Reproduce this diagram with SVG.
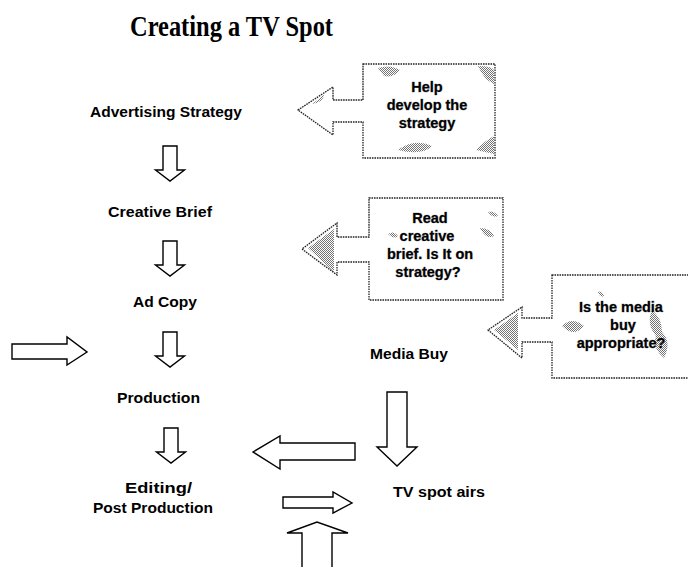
<svg xmlns="http://www.w3.org/2000/svg" width="688" height="567" viewBox="0 0 688 567">
  <style>
    .title { font-family: "Liberation Serif", "Times New Roman", serif; font-weight: bold; font-size: 30px; fill: #000; }
    .label { font-family: "Liberation Sans", Arial, sans-serif; font-weight: bold; font-size: 14.5px; fill: #000; }
    .note { font-family: "Liberation Sans", Arial, sans-serif; font-weight: bold; font-size: 14.5px; fill: #000; text-anchor: middle; stroke: #777; stroke-width: 0.5px; paint-order: stroke; }
    .arrow { fill: #fff; stroke: #000; stroke-width: 1.4; stroke-linejoin: miter; }
    .callout { fill: #fff; stroke: #222; stroke-width: 1.3; stroke-dasharray: 1.6 0.9; }
    .grain { fill: url(#stipple); opacity: 0.55; }
  </style>
  <defs>
    <pattern id="stipple" width="2" height="2" patternUnits="userSpaceOnUse">
      <rect x="0" y="0" width="1" height="1" fill="#000"/>
      <rect x="1" y="1" width="1" height="1" fill="#000"/>
    </pattern>
    <!-- small hollow down arrow, origin at top centre of the shaft -->
    <path id="downArrow" d="M-7,0 H7 V24 H14.5 L0,35 L-14.5,24 H-7 Z"/>
  </defs>

  <rect width="688" height="567" fill="#fff"/>

  <g id="title">
    <text class="title" x="130" y="36" textLength="203" lengthAdjust="spacingAndGlyphs">Creating a TV Spot</text>
  </g>

  <!-- process steps -->
  <g id="advertising-strategy">
    <text class="label" x="90" y="117" textLength="152" lengthAdjust="spacingAndGlyphs">Advertising Strategy</text>
  </g>
  <g id="creative-brief">
    <text class="label" x="108" y="217" textLength="104" lengthAdjust="spacingAndGlyphs">Creative Brief</text>
  </g>
  <g id="ad-copy">
    <text class="label" x="133" y="307" textLength="64" lengthAdjust="spacingAndGlyphs">Ad Copy</text>
  </g>
  <g id="production">
    <text class="label" x="117" y="403" textLength="83" lengthAdjust="spacingAndGlyphs">Production</text>
  </g>
  <g id="editing">
    <text class="label" x="125" y="493" textLength="67" lengthAdjust="spacingAndGlyphs">Editing/</text>
    <text class="label" x="93" y="513" textLength="120" lengthAdjust="spacingAndGlyphs">Post Production</text>
  </g>
  <g id="media-buy">
    <text class="label" x="370" y="359" textLength="78" lengthAdjust="spacingAndGlyphs">Media Buy</text>
  </g>
  <g id="tv-spot-airs">
    <text class="label" x="393" y="497" textLength="92" lengthAdjust="spacingAndGlyphs">TV spot airs</text>
  </g>

  <!-- review callouts -->
  <g id="callout-strategy">
    <path class="callout" d="M363,64 H495 V158 H363 V122 H333 V135 L298,110 L333,87 V100 H363 Z"/>
    <path class="grain" d="M378,68 q12,-4 22,2 q-6,8 -16,6 z M478,66 q14,0 16,4 v14 q-10,-4 -16,-18 z M398,150 q16,-12 34,-4 q-10,10 -34,4 z M476,150 q10,-10 18,-14 v18 z M312,104 q6,-4 12,-10 q0,8 -12,10 z"/>
    <text class="note" x="427" y="92">Help</text>
    <text class="note" x="427" y="110">develop the</text>
    <text class="note" x="427" y="128">strategy</text>
  </g>

  <g id="callout-brief">
    <path class="callout" d="M369,198 H503 V300 H369 V262 H337 V275 L302,249 L337,223 V237 H369 Z"/>
    <path class="grain" d="M308,248 L334,229 V272 Z"/>
    <path class="grain" d="M388,234 q6,-4 10,2 q-4,4 -10,-2 z M480,228 q10,0 14,8 q-8,4 -14,-8 z M488,212 q6,-2 10,4 q-6,2 -10,-4 z"/>
    <text class="note" x="430" y="223">Read</text>
    <text class="note" x="427" y="241">creative</text>
    <text class="note" x="430" y="259">brief. Is It on</text>
    <text class="note" x="428" y="277">strategy?</text>
  </g>

  <g id="callout-media">
    <!-- box runs past the right edge of the page -->
    <path class="callout" d="M552,275 H692 V378 H552 V342 H522 V358 L488,330 L522,307 V318 H552 Z"/>
    <path class="grain" d="M494,330 L518,313 V350 Z"/>
    <path class="grain" d="M562,326 q10,-10 22,0 q-10,12 -22,0 z M652,310 q10,8 10,22 q10,10 2,26 q-12,-10 -8,-22 q-10,-12 -4,-26 z M598,292 q4,-2 6,4 q-4,2 -6,-4 z"/>
    <text class="note" x="621" y="312">Is the media</text>
    <text class="note" x="623" y="330">buy</text>
    <text class="note" x="621" y="348">appropriate?</text>
  </g>

  <!-- flow arrows -->
  <g id="connectors">
    <use href="#downArrow" class="arrow" transform="translate(170,146)"/>
    <use href="#downArrow" class="arrow" transform="translate(170,241)"/>
    <use href="#downArrow" class="arrow" transform="translate(170,332)"/>
    <use href="#downArrow" class="arrow" transform="translate(171,428)"/>
    <!-- arrow entering from the left edge -->
    <path class="arrow" d="M12,344 H67 V337 L87,352 L67,365 V359 H12 Z"/>
    <!-- media buy down to airing -->
    <path class="arrow" d="M387,392 H407 V447 H417 L397,466 L377,447 H387 Z"/>
    <!-- back toward editing -->
    <path class="arrow" d="M355,443 V460 H280 V469 L253,452 L280,436 V443 Z"/>
    <!-- forward toward airing -->
    <path class="arrow" d="M283,497 H333 V492 L352,503 L333,513 V508 H283 Z"/>
    <!-- rising from below -->
    <path class="arrow" d="M302,570 V533 H287 L317,522 L348,533 H332 V570"/>
  </g>
</svg>
